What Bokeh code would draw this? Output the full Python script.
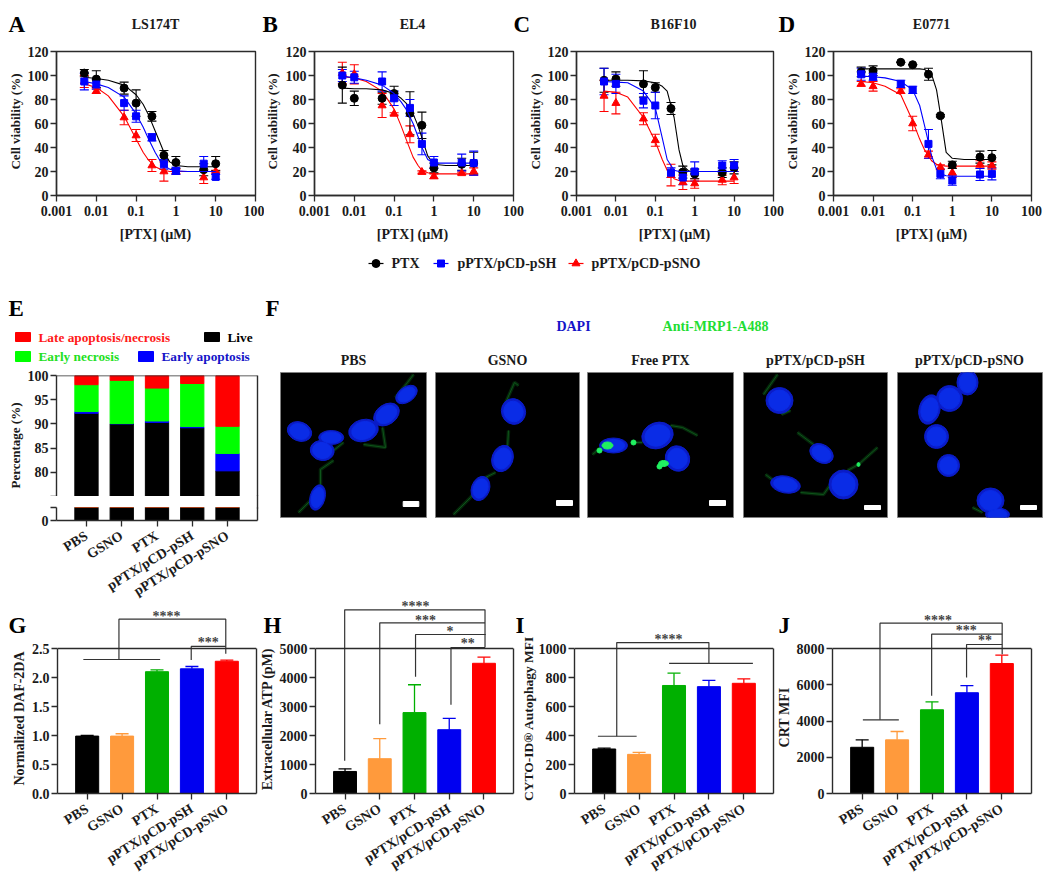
from math import radians, pi
from bokeh.plotting import figure
from bokeh.layouts import column, row
from bokeh.models import (ColumnDataSource, Whisker, TeeHead, FixedTicker, Label, Span, FactorRange,
                          Range1d, LinearAxis, Spacer)
from bokeh.core.properties import value
from bokeh.embed import file_html
from bokeh.resources import INLINE

FONT = "Liberation Serif"
AXC = "#2b2b2b"

# ---------------- dose-response data ----------------
dose = [0.005, 0.01, 0.05, 0.1, 0.25, 0.5, 1, 5, 10]
fit_dose = [0.005, 0.01, 0.02, 0.05, 0.1, 0.15, 0.2, 0.3, 0.4, 0.5, 0.7, 1, 2, 5, 10]

a_ptx = [102, 97, 89.5, 77, 66, 33.5, 27.5, 21.5, 26.5]
a_ptx_err = [3, 7, 5, 11, 4, 4, 5, 5, 6]
a_ptx_fit = [98.5, 97.5, 96, 92, 84, 76, 68, 54, 44, 36, 28, 25, 24, 24, 24]
a_psh = [95, 92.5, 77, 66, 48.5, 26, 20.5, 26.5, 15.5]
a_psh_err = [7, 4, 6, 5, 3, 4, 3, 6, 2]
a_psh_fit = [95, 93, 90, 82, 68, 57, 48, 36, 29, 25, 22, 20.5, 20, 20, 20]
a_psno = [95, 87, 65, 50, 25, 20, 20, 15, 20]
a_psno_err = [5, 2, 6, 5, 5, 8, 2, 5, 1]
a_psno_fit = [93, 90, 83, 66, 47, 36, 30, 24, 22, 21, 20, 20, 20, 20, 20]

b_ptx = [92, 81, 81, 85, 68.5, 58.5, 23, 26, 27]
b_ptx_err = [15, 6, 5, 6, 18, 11, 4, 5, 9]
b_ptx_fit = [89.5, 89, 89, 88, 85, 81, 77, 68, 58, 48, 33, 26, 25, 25, 25]
b_psh = [100, 98.5, 95, 81, 73, 43, 27.5, 27.5, 27]
b_psh_err = [5, 5, 8, 6, 7, 9, 5, 7, 10]
b_psh_fit = [99.5, 98, 96, 92, 85, 78, 72, 60, 49, 40, 30, 27, 27, 27, 27]
b_psno = [102, 101, 75, 68, 51, 19.5, 16, 18.5, 20]
b_psno_err = [9, 8, 10, 1, 7, 1, 2, 1, 3]
b_psno_fit = [99, 98, 95, 87, 72, 58, 47, 32, 25, 21, 19, 18, 18, 18, 18]

c_ptx = [96, 97, 93, 90, 72.5, 19.5, 18, 19, 23]
c_ptx_err = [10, 6, 11, 4, 5, 5, 4, 4, 5]
c_ptx_fit = [96, 96, 96, 95.5, 94, 91, 87, 65, 38, 25, 20.5, 20, 20, 20, 20]
c_psh = [95, 93, 79, 75, 19, 15, 20, 25, 25]
c_psh_err = [11, 8, 6, 11, 4, 6, 8, 4, 5]
c_psh_fit = [95, 94.5, 94, 87, 73, 48, 30, 21, 20, 20, 20, 20, 20, 20, 20]
c_psno = [83, 77, 64, 46, 17, 11, 10, 13, 15]
c_psno_err = [13, 9, 5, 5, 9, 6, 4, 4, 5]
c_psno_fit = [87, 86, 82, 65, 45, 30, 21, 14, 12.5, 12, 12, 12, 12, 12, 12]

d_ptx = [103, 104, 111, 109, 101, 66.5, 25.5, 32, 31.5]
d_ptx_err = [4, 4, 0, 0, 5, 1, 3, 5, 6]
d_ptx_fit = [105.5, 105.5, 105.5, 105.5, 105.5, 105.5, 105, 101, 88, 68, 36, 31, 30, 30, 30]
d_psh = [101, 99, 93, 88, 43, 18, 12.5, 17.5, 18]
d_psh_err = [5, 3, 3, 3, 12, 4, 4, 5, 5]
d_psh_fit = [99.5, 99, 98, 95, 88, 75, 58, 33, 22, 18, 16.5, 16, 16, 16, 16]
d_psno = [93, 91, 87, 60, 34, 23.5, 19, 26, 25]
d_psno_err = [2, 4, 2, 6, 3, 2, 4, 3, 3]
d_psno_fit = [95, 94, 91, 84, 62, 47, 38, 29, 26, 25, 24.5, 24.5, 24.5, 24.5, 24.5]

log_ticks = [0.001, 0.01, 0.1, 1, 10, 100]
log_tick_labels = ["0.001", "0.01", "0.1", "1", "10", "100"]
viability_ticks = [0, 20, 40, 60, 80, 100, 120]

# ---------------- bar data ----------------
groups = ["PBS", "GSNO", "PTX", "pPTX/pCD-pSH", "pPTX/pCD-pSNO"]
bar_colors = ["#000000", "#ff9a3c", "#00b000", "#0000f0", "#ff0000"]

live = [92.2, 90.0, 90.3, 89.2, 80.3]
early_apoptosis = [0.35, 0.07, 0.3, 0.25, 3.6]
early_necrosis = [5.55, 8.93, 6.8, 8.9, 5.6]
late_apoptosis = [1.9, 1.0, 2.6, 1.65, 10.5]

g_vals = [0.99, 0.99, 2.1, 2.15, 2.28]
g_tops = [1.0, 1.03, 2.13, 2.19, 2.30]
g_ticks = [0, 0.5, 1, 1.5, 2, 2.5]
g_tick_labels = ["0.0", "0.5", "1.0", "1.5", "2.0", "2.5"]
h_vals = [760, 1200, 2790, 2200, 4490]
h_tops = [850, 1890, 3750, 2590, 4700]
h_ticks = [0, 1000, 2000, 3000, 4000, 5000]
i_vals = [307, 270, 745, 737, 760]
i_tops = [313, 283, 830, 780, 790]
i_ticks = [0, 200, 400, 600, 800, 1000]
j_vals = [2550, 2960, 4620, 5560, 7170]
j_tops = [2960, 3420, 5060, 5950, 7630]
j_ticks = [0, 2000, 4000, 6000, 8000]

# significance brackets: x in bar-slot units, y in value units
g_brackets = [[(1.41, 2.31), (1.41, 3.006), (4.47, 3.006), (4.47, 2.41)],
              [(0.39, 2.31), (2.59, 2.31)],
              [(3.48, 2.30), (3.48, 2.535), (4.47, 2.535)]]
g_stars = [("****", 2.77, 3.08), ("***", 3.97, 2.63)]
h_brackets = [[(0.49, 1126), (0.49, 6333), (4.53, 6333), (4.53, 5034)],
              [(1.50, 2391), (1.50, 5885), (4.53, 5885)],
              [(2.53, 4023), (2.53, 5483), (4.55, 5483)],
              [(3.55, 3057), (3.55, 5034), (4.53, 5034)]]
h_stars = [("****", 2.53, 6506), ("***", 2.82, 6046), ("*", 3.52, 5644), ("**", 4.03, 5241)]
i_brackets = [[(0.86, 395), (0.86, 1041), (3.5, 1041), (3.5, 897)],
              [(0.32, 395), (1.43, 395)],
              [(2.36, 897), (4.76, 897)]]
i_stars = [("****", 2.34, 1076)]
j_brackets = [[(1.01, 4064), (1.01, 9398), (4.51, 9398), (4.51, 7687)],
              [(0.52, 4064), (1.55, 4064)],
              [(2.49, 5388), (2.49, 8791), (4.51, 8791)],
              [(3.49, 6400), (3.49, 8221), (4.51, 8221)]]
j_stars = [("****", 2.67, 9673), ("***", 3.48, 9103), ("**", 4.02, 8533)]

# ---------------- micrograph contents: x, y, w, h, tilt (deg) in image pixels ----------------
pbs_nuclei = [(19, 59, 25, 19, -20), (50.7, 65, 25, 14, 0), (41.7, 78, 24, 20, -10), (83, 58, 30, 22, 15),
              (106, 42, 28, 20, 35), (126, 22, 24, 15, 35), (37, 125, 15, 26, -15)]
gsno_nuclei = [(78, 39, 24, 26, 20), (67, 86, 21, 27, -20), (45, 116, 18, 25, -20)]
ptx_nuclei = [(26, 73, 28, 15, 0), (70, 63, 32, 26, 20), (90, 86, 24, 26, 30)]
psh_nuclei = [(36, 28, 27, 26, 0), (78, 81, 25, 18, -30), (42, 112, 30, 17, -10), (100, 112, 29, 29, 0)]
psno_nuclei = [(70, 10, 21, 25, 0), (52, 26, 26, 26, 0), (32, 37, 21, 30, -15), (39, 64, 24, 24, 0),
               (51, 93, 22, 22, 0), (93, 128, 27, 25, 0), (100, 142, 24, 13, 0)]
pbs_fibres = [[(133, 2), (127, 10), (115, 25)], [(102, 55), (105, 75), (83, 72)], [(63, 70), (53, 78)],
              [(53, 88), (40, 97), (40, 112), (30, 128), (18, 140)]]
gsno_fibres = [[(83, 13), (79, 10), (68, 35)], [(73, 58), (72, 75)], [(60, 100), (50, 105)],
               [(52, 105), (35, 125), (18, 142)]]
ptx_fibres = [[(45, 70), (55, 70)], [(83, 53), (95, 55), (110, 63)], [(5, 82), (12, 76)]]
psh_fibres = [[(34, 2), (20, 22)], [(54, 60), (70, 72)], [(22, 102), (30, 108)],
              [(57, 120), (80, 122), (97, 98)], [(104, 98), (115, 92), (134, 75)], [(47, 38), (38, 42)]]
psno_fibres = [[(75, 135), (85, 140)]]
ptx_spots = [(20, 73, 11, 7), (12, 78, 5, 5), (46, 70, 5, 5), (76, 91, 10, 6), (72, 94, 5, 5)]
psh_spots = [(115, 92, 3, 4)]
scale_bars = [(122.7, 129, 138.3, 134), (121, 128, 137, 133), (122, 128, 138, 133),
              (121, 133, 137, 137), (123, 133, 139, 137)]
image_titles = ["PBS", "GSNO", "Free PTX", "pPTX/pCD-pSH", "pPTX/pCD-pSNO"]


def base_fig(cell_l, cell_r, cell_t, cell_b, fl, fr, ft, fb, **kw):
    p = figure(width=cell_r - cell_l, height=cell_b - cell_t, toolbar_location=None, output_backend="svg",
               min_border_left=fl - cell_l, min_border_right=cell_r - fr,
               min_border_top=ft - cell_t, min_border_bottom=cell_b - fb,
               background_fill_color=kw.pop("bg", None), border_fill_color=None, outline_line_color=None, **kw)
    p.grid.grid_line_color = None
    return p


def style_axis(ax, ticks=None, labels=None):
    ax.axis_line_color = AXC
    ax.axis_line_width = 1.4
    ax.major_tick_line_color = AXC
    ax.major_tick_line_width = 1.3
    ax.major_tick_in = 0
    ax.major_tick_out = 6
    ax.minor_tick_line_color = None
    ax.major_label_text_font = FONT
    ax.major_label_text_font_style = "bold"
    ax.major_label_text_font_size = "14px"
    ax.major_label_text_color = "#1a1a1a"
    ax.major_label_standoff = 2
    if ticks is not None:
        ax.ticker = FixedTicker(ticks=ticks)
    if labels is not None:
        ax.major_label_overrides = dict(zip(ticks, labels))


def series(p, y, err, fit, color, marker, size):
    p.line(fit_dose, fit, line_color=color, line_width=1.1)
    src = ColumnDataSource(dict(x=dose, up=[a + b for a, b in zip(y, err)], lo=[a - b for a, b in zip(y, err)]))
    p.add_layout(Whisker(base="x", upper="up", lower="lo", source=src, line_color=color, line_width=1.1,
                         upper_head=TeeHead(size=9, line_color=color, line_width=1.1),
                         lower_head=TeeHead(size=9, line_color=color, line_width=1.1)))
    p.scatter(dose, y, marker=marker, size=size, color=color)


def curve_panel(cell_l, cell_r, fl, fr, fb, data):
    p = base_fig(cell_l, cell_r, 0, 275, fl, fr, 51, fb, x_axis_type="log",
                 x_range=Range1d(0.001, 100), y_range=Range1d(0, 120))
    p.outline_line_color = AXC
    p.outline_line_width = 1.4
    style_axis(p.xaxis[0], log_ticks, log_tick_labels)
    style_axis(p.yaxis[0], viability_ticks)
    p.xaxis[0].major_label_standoff = 4
    series(p, *data[2], "#ff0000", "triangle", 8)
    series(p, *data[0], "#000000", "circle", 8)
    series(p, *data[1], "#0000ff", "square", 7)
    return p


p_a = curve_panel(0, 264, 56, 255, 196, [(a_ptx, a_ptx_err, a_ptx_fit), (a_psh, a_psh_err, a_psh_fit), (a_psno, a_psno_err, a_psno_fit)])
p_b = curve_panel(264, 525, 314, 513, 196, [(b_ptx, b_ptx_err, b_ptx_fit), (b_psh, b_psh_err, b_psh_fit), (b_psno, b_psno_err, b_psno_fit)])
p_c = curve_panel(525, 784, 576, 773, 196, [(c_ptx, c_ptx_err, c_ptx_fit), (c_psh, c_psh_err, c_psh_fit), (c_psno, c_psno_err, c_psno_fit)])
p_d = curve_panel(784, 1050, 833, 1031, 195, [(d_ptx, d_ptx_err, d_ptx_fit), (d_psh, d_psh_err, d_psh_fit), (d_psno, d_psno_err, d_psno_fit)])


def slots():
    return FactorRange(factors=groups, range_padding=0.35, range_padding_units="absolute")


def cat_axis(ax):
    style_axis(ax)
    ax.major_label_orientation = radians(32)
    ax.major_label_standoff = 8


def right_rule(p, lo, hi):
    ax = LinearAxis(bounds=(lo, hi), ticker=FixedTicker(ticks=[]), major_tick_line_color=None, minor_tick_line_color=None,
                    axis_line_color=AXC, axis_line_width=1.4, major_label_standoff=0)
    p.add_layout(ax, "right")


# ---- panel E (broken axis) ----
stack_cols = ["live", "ea", "en", "late"]
stack_src = dict(x=groups, live=live, ea=early_apoptosis, en=early_necrosis, late=late_apoptosis)
stack_colors = ["#000000", "#0000ff", "#00ff00", "#ff0000"]

p_e_top = base_fig(0, 262, 275, 496, 56, 257, 375, 496, x_range=slots(), y_range=Range1d(75, 100), x_axis_location=None)
p_e_top.vbar_stack(stack_cols, x="x", width=0.66, color=stack_colors, source=ColumnDataSource(stack_src))
style_axis(p_e_top.yaxis[0], [75, 80, 85, 90, 95, 100], ["", "80", "85", "90", "95", "100"])
right_rule(p_e_top, 75, 100)
p_e_top.add_layout(Span(location=100, dimension="width", line_color=AXC, line_width=1.4))

p_e_low = base_fig(0, 262, 496, 612, 56, 257, 507, 520, x_range=slots(), y_range=Range1d(0, 2.7))
p_e_low.vbar_stack(stack_cols, x="x", width=0.66, color=stack_colors, source=ColumnDataSource(stack_src))
style_axis(p_e_low.yaxis[0], [0, 2.7], ["0", ""])
cat_axis(p_e_low.xaxis[0])
right_rule(p_e_low, 0, 2.7)


# ---- panels G-J ----
def bar_panel(cell_l, cell_r, fl, fr, vals, tops, ticks, labels, brackets, stars):
    ymax = ticks[-1]
    ft, fb = 590, 793
    span = ymax * (fb - ft) / 145.0
    p = base_fig(cell_l, cell_r, 590, 885, fl, fr, ft, fb, x_range=slots(), y_range=Range1d(0, span))
    for g, v, t, c in zip(groups, vals, tops, bar_colors):
        src = ColumnDataSource(dict(x=[g], up=[t], lo=[v]))
        p.add_layout(Whisker(base="x", upper="up", lower="lo", source=src, line_color=c, line_width=1.3,
                             upper_head=TeeHead(size=13, line_color=c, line_width=1.3), lower_head=None))
    p.vbar(x=groups, top=vals, width=0.66, color=bar_colors)
    style_axis(p.yaxis[0], ticks, labels)
    p.yaxis[0].bounds = (0, ymax)
    cat_axis(p.xaxis[0])
    right_rule(p, 0, ymax)
    p.add_layout(Span(location=ymax, dimension="width", line_color=AXC, line_width=1.4))
    p.multi_line([[q[0] for q in b] for b in brackets], [[q[1] for q in b] for b in brackets],
                 line_color="#333333", line_width=1.2)
    p.text([s[1] for s in stars], [s[2] for s in stars], text=[s[0] for s in stars], text_font=value(FONT),
           text_font_style="bold", text_font_size="14px", text_color="#444444", text_align="center",
           text_baseline="middle", y_offset=2)
    return p


p_g = bar_panel(0, 265, 57, 256, g_vals, g_tops, g_ticks, g_tick_labels, g_brackets, g_stars)
p_h = bar_panel(265, 524, 315, 513, h_vals, h_tops, h_ticks, None, h_brackets, h_stars)
p_i = bar_panel(524, 782, 574, 773, i_vals, i_tops, i_ticks, None, i_brackets, i_stars)
p_j = bar_panel(782, 1050, 832, 1031, j_vals, j_tops, j_ticks, None, j_brackets, j_stars)


# ---- panel F micrographs ----
def micrograph(cell_l, cell_r, fl, fr, nuclei, fibres, bar, spots=()):
    p = base_fig(cell_l, cell_r, 275, 590, fl, fr, 372, 517, bg="black", x_axis_location=None, y_axis_location=None,
                 x_range=Range1d(0, fr - fl), y_range=Range1d(145, 0))
    p.outline_line_color = "#808080"
    p.outline_line_width = 1
    fx = [[q[0] for q in f] for f in fibres]
    fy = [[q[1] for q in f] for f in fibres]
    p.multi_line(fx, fy, line_color="#06300c", line_width=3.5, line_alpha=0.8)
    p.multi_line(fx, fy, line_color="#0e5a1c", line_width=0.9)
    xs, ys, ws, hs, ts = zip(*nuclei)
    p.ellipse(xs, ys, width=ws, height=hs, angle=ts, angle_units="deg", color="#0a1cc8")
    p.ellipse(xs, ys, width=[w * 0.8 for w in ws], height=[h * 0.8 for h in hs], angle=ts, angle_units="deg", color="#0a2ce6")
    if spots:
        sx, sy, sw, sh = zip(*spots)
        p.ellipse(sx, sy, width=sw, height=sh, color="#20f060")
    p.quad(left=[bar[0]], top=[bar[1]], right=[bar[2]], bottom=[bar[3]], color="white")
    return p


im1 = micrograph(262, 430, 280, 426, pbs_nuclei, pbs_fibres, scale_bars[0])
im2 = micrograph(430, 583, 435, 579, gsno_nuclei, gsno_fibres, scale_bars[1])
im3 = micrograph(583, 738, 587, 733, ptx_nuclei, ptx_fibres, scale_bars[2], ptx_spots)
im4 = micrograph(738, 892, 743, 887, psh_nuclei, psh_fibres, scale_bars[3], psh_spots)
im5 = micrograph(892, 1050, 897, 1042, psno_nuclei, psno_fibres, scale_bars[4])

# ---- overlay in page coordinates for letters, titles, legends ----
ov = figure(width=1050, height=875, toolbar_location=None, output_backend="svg", x_axis_location=None, y_axis_location=None,
            x_range=Range1d(0, 1050), y_range=Range1d(875, 0), min_border=0, background_fill_color=None,
            border_fill_color=None, outline_line_color=None)
ov.grid.grid_line_color = None


def txt(s, x, y, size=14, color="#1a1a1a", align="center", angle=0.0, baseline="middle"):
    ov.add_layout(Label(x=x, y=y, text=s, text_font=FONT, text_font_style="bold", text_font_size=f"{size}px",
                        text_color=color, text_align=align, text_baseline=baseline, angle=angle))


for s, x, y in [("A", 8, 24), ("B", 262, 24), ("C", 513, 24), ("D", 778, 24), ("E", 8, 308), ("F", 265, 308),
                ("G", 8, 625), ("H", 263, 625), ("I", 515, 625), ("J", 778, 625)]:
    txt(s, x, y, size=23, color="#000000", align="left", baseline="alphabetic")
for s, x in [("LS174T", 155), ("EL4", 412), ("B16F10", 673), ("E0771", 931)]:
    txt(s, x, 24)
for x in [155, 412, 674, 931]:
    txt("[PTX] (µM)", x, 234)
for x in [15, 272, 535, 792]:
    txt("Cell viability (%)", x, 121, size=13, angle=pi / 2)
txt("Percentage (%)", 15, 445, size=13, angle=pi / 2)
txt("Normalized DAF-2DA", 19, 718, angle=pi / 2)
txt("Extracellular ATP (pM)", 267, 718, angle=pi / 2)
txt("CYTO-ID® Autophagy MFI", 528, 718, size=13.5, angle=pi / 2)
txt("CRT MFI", 784, 717, angle=pi / 2)
txt("DAPI", 573, 326, color="#1414c8")
txt("Anti-MRP1-A488", 715, 326, color="#22dd33")
for s, x in zip(image_titles, [353, 507, 660, 815, 969]):
    txt(s, x, 360)
txt("Late apoptosis/necrosis", 38, 337, size=13.3, color="#ff1a1a", align="left")
txt("Live", 227, 337, size=13.3, color="#000000", align="left")
txt("Early necrosis", 38, 356, size=13.3, color="#22e022", align="left")
txt("Early apoptosis", 161, 356, size=13.3, color="#1414c8", align="left")
ov.quad(left=[15, 204, 15, 138], right=[30, 219, 30, 153], top=[332, 332, 351, 351], bottom=[341, 341, 361, 361],
        color=["#ff0000", "#000000", "#00ff00", "#0000ff"])
ov.segment([257], [495], [257], [508], line_color=AXC, line_width=1.4)

# shared legend of panels A-D
for name, color, marker, size, gx, tx in [("PTX", "#000000", "circle", 8, 368, 391),
                                          ("pPTX/pCD-pSH", "#0000ff", "square", 7, 433, 457),
                                          ("pPTX/pCD-pSNO", "#ff0000", "triangle", 8, 568, 591)]:
    ov.segment([gx], [263], [gx + 15], [263], line_color=color, line_width=1.2)
    ov.scatter([gx + 7.5], [263], marker=marker, size=size, color=color)
    txt(name, tx, 263, align="left")

e_col = column(p_e_top, p_e_low, spacing=0)
e_col.styles = {"position": "absolute", "left": "0px", "top": "275px"}
main = column(row(p_a, p_b, p_c, p_d, spacing=0),
              row(Spacer(width=262, height=315), im1, im2, im3, im4, im5, spacing=0),
              row(p_g, p_h, p_i, p_j, spacing=0), spacing=0)
ov.styles = {"position": "absolute", "left": "0px", "top": "0px"}
root = column(main, e_col, ov, spacing=0, width=1050, height=875, styles={"overflow": "hidden"})
open("out.html", "w").write(file_html(root, INLINE))
